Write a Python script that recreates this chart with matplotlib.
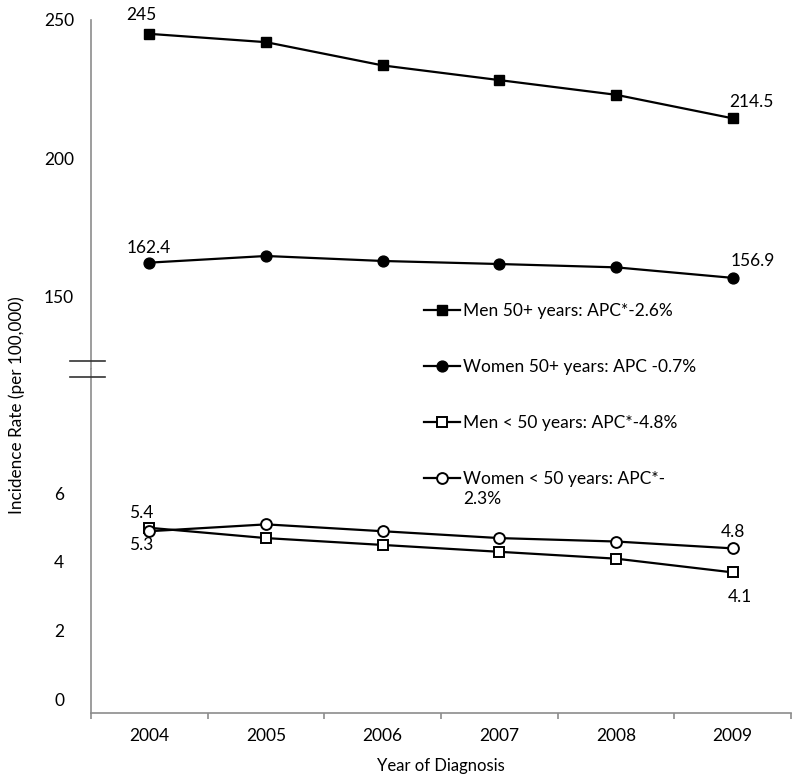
import matplotlib
matplotlib.use("Agg")
import matplotlib.pyplot as plt
from matplotlib.lines import Line2D
from matplotlib.transforms import ScaledTranslation
import numpy as np

plt.rcParams['font.family'] = ['Lato', 'DejaVu Sans']

years = ['2004', '2005', '2006', '2007', '2008', '2009']
men_50plus = [245, 242, 233.6, 228.3, 223, 214.5]
women_50plus = [162.4, 164.8, 163, 161.9, 160.7, 156.9]
men_under50 = [5.4, 5.1, 4.9, 4.7, 4.5, 4.1]
women_under50 = [5.3, 5.5, 5.3, 5.1, 5.0, 4.8]

legend_labels = ['Men 50+ years: APC*-2.6%',
                 'Women 50+ years: APC -0.7%',
                 'Men < 50 years: APC*-4.8%',
                 'Women < 50 years: APC*-']
legend_extra = '2.3%'

top_ticks = [150, 200, 250]
bottom_ticks = [0, 2, 4, 6]

W, H = 800, 783
fig = plt.figure(figsize=(8, 7.83), dpi=100)

left = 91 / W
right = 791 / W
y_top = 1 - 20 / H
y_break = 1 - 369 / H
y_bot = 1 - 713 / H

ax_top = fig.add_axes([left, y_break, right - left, y_top - y_break])
ax_bot = fig.add_axes([left, y_bot, right - left, y_break - y_bot])

x = np.arange(len(years))
spine_col = '#8c8c8c'
lw = 1.6

ax_top.plot(x, men_50plus, color='black', lw=lw, marker='s', ms=7.6,
            mfc='black', mec='black')
ax_top.plot(x, women_50plus, color='black', lw=lw, marker='o', ms=7.8,
            mfc='black', mec='black')
ax_bot.plot(x, men_under50, color='black', lw=lw, marker='s', ms=7.6,
            mfc='white', mec='black', mew=1.4)
ax_bot.plot(x, women_under50, color='black', lw=lw, marker='o', ms=7.8,
            mfc='white', mec='black', mew=1.4)

ax_top.set_ylim(124.0, 250)
ax_bot.set_ylim(0, 10.03)
for ax in (ax_top, ax_bot):
    ax.set_xlim(-0.5, 5.5)
    ax.spines['right'].set_visible(False)
    ax.spines['left'].set_color(spine_col)
    ax.spines['left'].set_linewidth(1.2)
    ax.tick_params(axis='y', length=0, labelsize=12.5, pad=23)

ax_top.spines['top'].set_visible(False)
ax_top.spines['bottom'].set_visible(False)
ax_top.set_xticks([])
ax_top.set_yticks(top_ticks)
ax_top.set_yticklabels([str(t) for t in top_ticks], ha='center')

ax_bot.spines['top'].set_visible(False)
ax_bot.spines['bottom'].set_color(spine_col)
ax_bot.spines['bottom'].set_linewidth(1.2)
ax_bot.set_yticks(bottom_ticks)
ax_bot.set_yticklabels([str(t) for t in bottom_ticks], ha='center')
off = ScaledTranslation(0, 14 / 100, fig.dpi_scale_trans)
for lab in ax_bot.get_yticklabels():
    lab.set_transform(lab.get_transform() + off)

ax_bot.set_xticks(x)
ax_bot.set_xticklabels(years, fontsize=12.5)
ax_bot.tick_params(axis='x', which='major', length=0, pad=11)
ax_bot.set_xticks(np.arange(-0.5, 6.0, 1.0), minor=True)
ax_bot.tick_params(axis='x', which='minor', length=4, width=1.2,
                   color=spine_col, direction='out')
ax_bot.set_xlabel('Year of Diagnosis', fontsize=12, labelpad=10)

fig.text(17 / W, 1 - 405 / H, 'Incidence Rate (per 100,000)', rotation=90,
         ha='center', va='center', fontsize=12.3)

# break marks
for yy in (361, 377):
    fig.add_artist(Line2D([70 / W, 105 / W], [1 - yy / H, 1 - yy / H],
                          color='#333333', lw=1.2))

# data labels
fs = 12.5
def lab(ax, xi, val, txt, dx, dy):
    ax.annotate(txt, (xi, val), xytext=(dx, dy), textcoords='offset pixels',
                ha='center', va='center', fontsize=fs)

lab(ax_top, 0, men_50plus[0], '245', -8, 19)
lab(ax_top, 5, men_50plus[5], '214.5', 19, 16)
lab(ax_top, 0, women_50plus[0], '162.4', -1, 15)
lab(ax_top, 5, women_50plus[5], '156.9', 20, 17)
lab(ax_bot, 0, men_under50[0], '5.4', -8, 15)
lab(ax_bot, 0, women_under50[0], '5.3', -8, -14)
lab(ax_bot, 5, women_under50[5], '4.8', 0, 16)
lab(ax_bot, 5, men_under50[5], '4.1', 7, -25)

handles = [
    Line2D([], [], color='black', lw=lw, marker='s', ms=7.6, mfc='black', mec='black'),
    Line2D([], [], color='black', lw=lw, marker='o', ms=7.8, mfc='black', mec='black'),
    Line2D([], [], color='black', lw=lw, marker='s', ms=7.6, mfc='white', mec='black', mew=1.4),
    Line2D([], [], color='black', lw=lw, marker='o', ms=7.8, mfc='white', mec='black', mew=1.4),
]
leg = fig.legend(handles, legend_labels, loc='upper left',
                 bbox_to_anchor=(417 / W, 1 - 296 / H), frameon=False,
                 fontsize=12.5, handlelength=2.1, handletextpad=0.15,
                 labelspacing=2.3, borderaxespad=0)
fig.text(463 / W, 1 - 499 / H, legend_extra, ha='left', va='center', fontsize=12.5)

fig.savefig('out.png', dpi=100)
